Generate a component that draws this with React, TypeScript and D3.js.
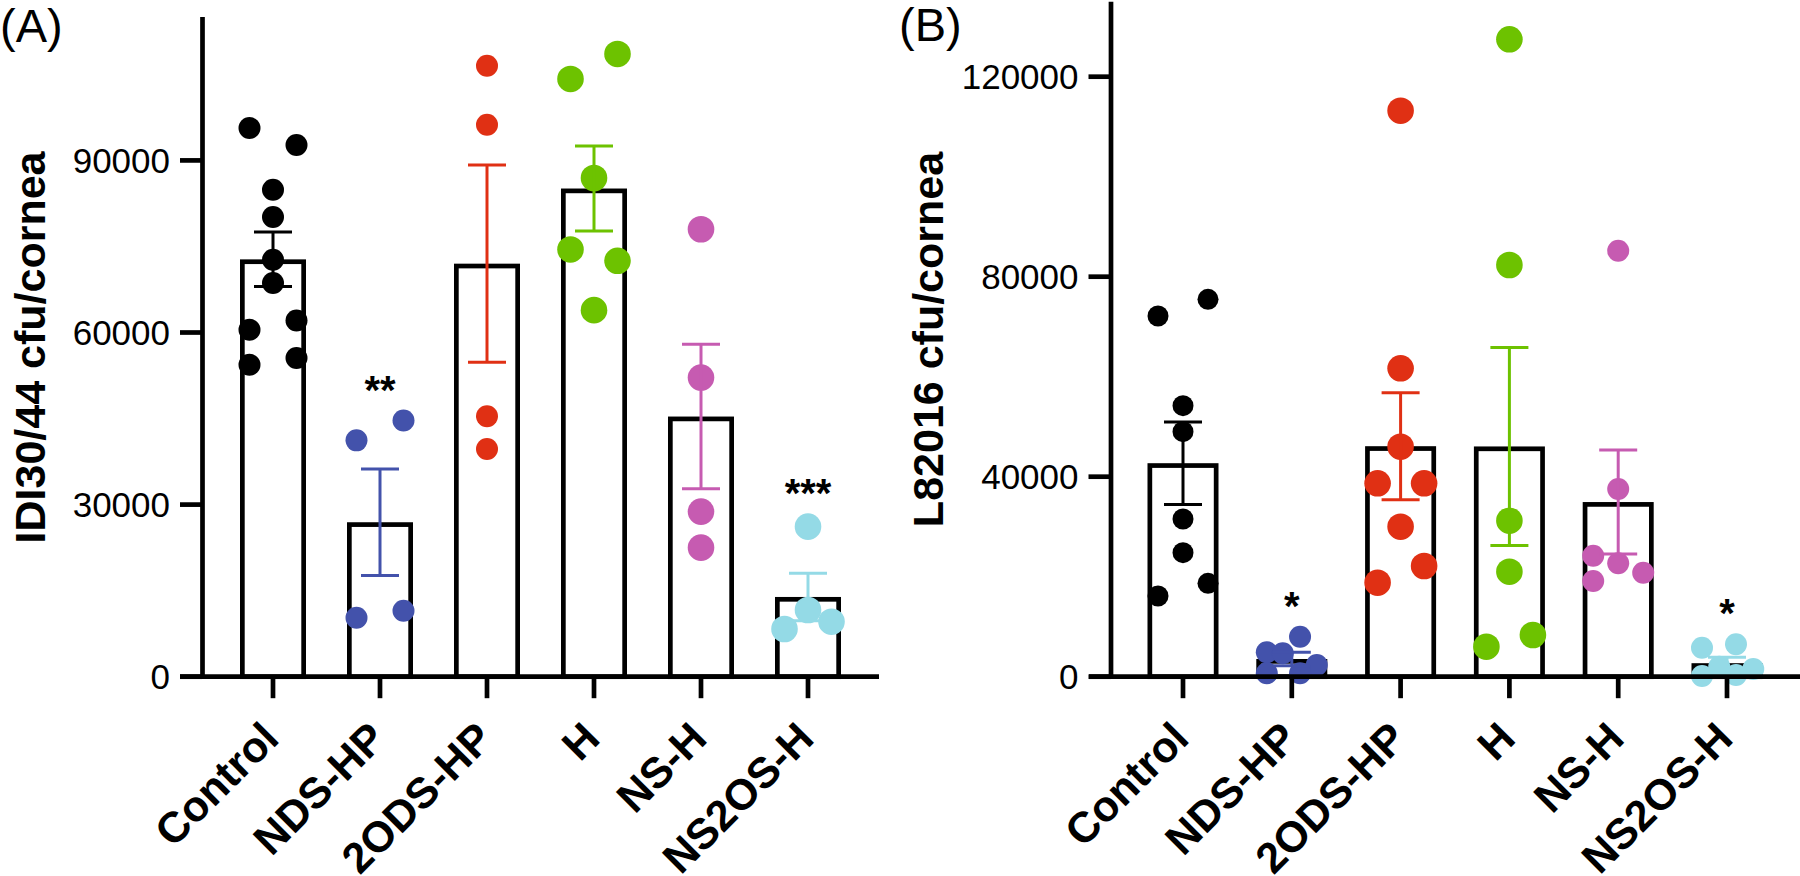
import React, { useEffect } from "react";
import * as d3 from "d3";

// ---------- data ----------
const CATEGORIES = ["Control", "NDS-HP", "2ODS-HP", "H", "NS-H", "NS2OS-H"];
const COLORS = ["#000000", "#4352AB", "#E03014", "#6DC200", "#C65BB1", "#94DAE6"];

// Panel A: IDI30/44 cfu/cornea
const A_CONTROL = [95640, 92690, 84890, 80130, 72680, 68620, 60470, 62090, 54370, 55540];
const A_CONTROL_COL = [-1, 1, 0, 0, 0, 0, -1, 1, -1, 1];
const A_NDSHP = [41200, 44650, 10290, 11510];
const A_NDSHP_COL = [-1, 1, -1, 1];
const A_2ODSHP = [106500, 96200, 45400, 39700];
const A_2ODSHP_COL = [0, 0, 0, 0];
const A_H = [104200, 108560, 86930, 74480, 72500, 63900];
const A_H_COL = [-1, 1, 0, -1, 1, 0];
const A_NSH = [78000, 52150, 28780, 22500];
const A_NSH_COL = [0, 0, 0, 0];
const A_NS2OSH = [26160, 11630, 8320, 9590];
const A_NS2OSH_COL = [0, 0, -1, 1];
const A_MEANS = [72750, 26925, 72000, 85100, 45350, 13900];
const A_SEMS = [4750, 9300, 17200, 7400, 12600, 4150];
const A_SIG = ["", "**", "", "", "", "***"];
const A_TICKS = [0, 30000, 60000, 90000];
const A_MAX = 115000;

// Panel B: L82016 cfu/cornea
const B_CONTROL = [72140, 75480, 54200, 49000, 31540, 24800, 16140, 18680];
const B_CONTROL_COL = [-1, 1, 0, 0, 0, 0, -1, 1];
const B_NDSHP = [8000, 4880, 4680, 2340, 680, 680];
const B_NDSHP_COL = [0.33, -1, -0.36, 1, -1, 0.33];
const B_2ODSHP = [113200, 61680, 46000, 38680, 38680, 30000, 22140, 18800];
const B_2ODSHP_COL = [0, 0, 0, -0.92, 0.94, 0, 0.94, -0.92];
const B_H = [127480, 82340, 31200, 21000, 8340, 6000];
const B_H_COL = [0, 0, 0, 0, 0.94, -0.92];
const B_NSH = [85200, 37540, 24200, 22680, 20800, 19140];
const B_NSH_COL = [0, 0, -1, 0, 1, -1];
const B_NS2OSH = [5800, 6480, 2000, 1540, 140, 340];
const B_NS2OSH_COL = [-1, 0.36, -0.31, 1.05, -1, 0.36];
const B_MEANS = [42700, 3540, 46100, 46050, 34930, 2700];
const B_SEMS = [8260, 1350, 10700, 19800, 10400, 1180];
const B_SIG = ["", "*", "", "", "", "*"];
const B_TICKS = [0, 40000, 80000, 120000];
const B_MAX = 135000;

const A_VALUES = [A_CONTROL, A_NDSHP, A_2ODSHP, A_H, A_NSH, A_NS2OSH];
const A_COLS = [A_CONTROL_COL, A_NDSHP_COL, A_2ODSHP_COL, A_H_COL, A_NSH_COL, A_NS2OSH_COL];
const B_VALUES = [B_CONTROL, B_NDSHP, B_2ODSHP, B_H, B_NSH, B_NS2OSH];
const B_COLS = [B_CONTROL_COL, B_NDSHP_COL, B_2ODSHP_COL, B_H_COL, B_NSH_COL, B_NS2OSH_COL];

// ---------- styles / layout ----------
const FONT = "'Liberation Sans', Arial, Helvetica, sans-serif";
const AXIS_W = 4.7;
const BAR_W = 4.7;
const ERR_W = 3;
const CAP_W = 38;

type PanelCfg = {
  label: string;
  labelX: number;
  labelY: number;
  title: string;
  titleX: number;
  titleY: number;
  axisX: number;
  yTop: number;
  yBottom: number;
  yMax: number;
  ticks: number[];
  xFirst: number;
  xLast: number;
  xAxisStart: number;
  xAxisEnd: number;
  barOuter: number;
  spread: number;
  radii: number[];
  values: number[][];
  cols: number[][];
  means: number[];
  sems: number[];
  sig: string[];
};

const PANEL_A: PanelCfg = {
  label: "(A)",
  labelX: 0,
  labelY: 42,
  title: "IDI30/44 cfu/cornea",
  titleX: 45,
  titleY: 347.5,
  axisX: 202.5,
  yTop: 17,
  yBottom: 676.7,
  yMax: A_MAX,
  ticks: A_TICKS,
  xFirst: 273,
  xLast: 808,
  xAxisStart: 180,
  xAxisEnd: 879,
  barOuter: 66,
  spread: 23.5,
  radii: [11, 11, 11, 13.3, 13.3, 13.3],
  values: A_VALUES,
  cols: A_COLS,
  means: A_MEANS,
  sems: A_SEMS,
  sig: A_SIG,
};

const PANEL_B: PanelCfg = {
  label: "(B)",
  labelX: 899,
  labelY: 41,
  title: "L82016 cfu/cornea",
  titleX: 943,
  titleY: 339.5,
  axisX: 1111,
  yTop: 1.7,
  yBottom: 676.7,
  yMax: B_MAX,
  ticks: B_TICKS,
  xFirst: 1183,
  xLast: 1727,
  xAxisStart: 1089,
  xAxisEnd: 1800,
  barOuter: 71,
  spread: 25,
  radii: [10.5, 11, 13.3, 13.3, 11, 11],
  values: B_VALUES,
  cols: B_COLS,
  means: B_MEANS,
  sems: B_SEMS,
  sig: B_SIG,
};

function Panel({ cfg }: { cfg: PanelCfg }) {
  const y = d3.scaleLinear().domain([0, cfg.yMax]).range([cfg.yBottom, cfg.yTop]);
  const x = d3.scalePoint<string>().domain(CATEGORIES).range([cfg.xFirst, cfg.xLast]);
  const y0 = y(0);
  const innerW = cfg.barOuter - BAR_W;

  return (
    <g>
      {/* panel label */}
      <text x={cfg.labelX} y={cfg.labelY} fontSize={47} fontFamily={FONT} fill="#000">
        {cfg.label}
      </text>
      {/* y title */}
      <text
        transform={`translate(${cfg.titleX},${cfg.titleY}) rotate(-90)`}
        textAnchor="middle"
        fontSize={43}
        fontWeight="bold"
        fontFamily={FONT}
        fill="#000"
      >
        {cfg.title}
      </text>

      {/* bars */}
      {CATEGORIES.map((c, i) => {
        const cx = x(c)!;
        const top = y(cfg.means[i]) + BAR_W / 2;
        return (
          <rect
            key={"bar" + c}
            x={cx - innerW / 2}
            y={top}
            width={innerW}
            height={Math.max(0, y0 - top)}
            fill="none"
            stroke="#000"
            strokeWidth={BAR_W}
          />
        );
      })}

      {/* points */}
      {CATEGORIES.map((c, i) =>
        cfg.values[i].map((v, j) => (
          <circle
            key={"pt" + c + j}
            cx={x(c)! + cfg.cols[i][j] * cfg.spread}
            cy={y(v)}
            r={cfg.radii[i]}
            fill={COLORS[i]}
          />
        ))
      )}

      {/* error bars */}
      {CATEGORIES.map((c, i) => {
        const cx = x(c)!;
        const hi = y(cfg.means[i] + cfg.sems[i]);
        const lo = y(Math.max(0, cfg.means[i] - cfg.sems[i]));
        return (
          <g key={"err" + c} stroke={COLORS[i]} strokeWidth={ERR_W}>
            <line x1={cx} x2={cx} y1={hi} y2={lo} />
            <line x1={cx - CAP_W / 2} x2={cx + CAP_W / 2} y1={hi} y2={hi} />
            <line x1={cx - CAP_W / 2} x2={cx + CAP_W / 2} y1={lo} y2={lo} />
          </g>
        );
      })}

      {/* significance */}
      {CATEGORIES.map((c, i) => {
        if (!cfg.sig[i]) return null;
        const maxV = d3.max(cfg.values[i])!;
        const cy = y(maxV) - cfg.radii[i] - 28;
        return (
          <text
            key={"sig" + c}
            x={x(c)!}
            y={cy + 22}
            textAnchor="middle"
            fontSize={40}
            fontWeight="bold"
            fontFamily={FONT}
            fill="#000"
          >
            {cfg.sig[i]}
          </text>
        );
      })}

      {/* y axis */}
      <line x1={cfg.axisX} x2={cfg.axisX} y1={cfg.yTop} y2={y0} stroke="#000" strokeWidth={AXIS_W} />
      {cfg.ticks.map((t) => (
        <g key={"yt" + t}>
          <line x1={cfg.axisX - 22.5} x2={cfg.axisX} y1={y(t)} y2={y(t)} stroke="#000" strokeWidth={AXIS_W} />
          <text
            x={cfg.axisX - 32.5}
            y={y(t)}
            dy="0.36em"
            textAnchor="end"
            fontSize={35}
            fontFamily={FONT}
            fill="#000"
          >
            {t}
          </text>
        </g>
      ))}

      {/* x axis */}
      <line x1={cfg.xAxisStart} x2={cfg.xAxisEnd} y1={y0} y2={y0} stroke="#000" strokeWidth={AXIS_W} />
      {CATEGORIES.map((c) => (
        <g key={"xt" + c}>
          <line x1={x(c)!} x2={x(c)!} y1={y0} y2={y0 + 21.5} stroke="#000" strokeWidth={AXIS_W} />
          <text
            transform={`translate(${x(c)! + 8},${y0 + 64}) rotate(-45)`}
            textAnchor="end"
            fontSize={43}
            fontWeight="bold"
            fontFamily={FONT}
            fill="#000"
          >
            {c}
          </text>
        </g>
      ))}
    </g>
  );
}

export default function App() {
  useEffect(() => {
    document.body.style.margin = "0";
  }, []);
  return (
    <svg
      width={1800}
      height={876}
      viewBox="0 0 1800 876"
      style={{ display: "block", background: "#fff" }}
    >
      <rect x={0} y={0} width={1800} height={876} fill="#fff" />
      <Panel cfg={PANEL_A} />
      <Panel cfg={PANEL_B} />
    </svg>
  );
}
